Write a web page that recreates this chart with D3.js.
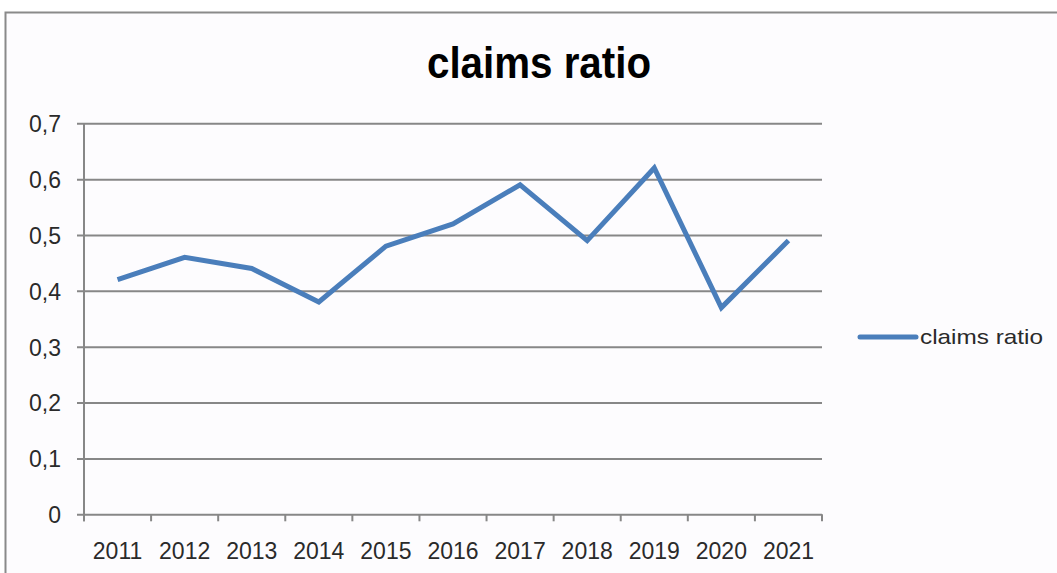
<!DOCTYPE html>
<html>
<head>
<meta charset="utf-8">
<script src="https://cdn.jsdelivr.net/npm/d3@7"></script>
<style>
  body { margin: 0; background: #ffffff; }
  text { font-family: "Liberation Sans", Arial, sans-serif; }
</style>
</head>
<body>
<div id="containerChart"></div>
<script>
//Width and height
let w = 1057;
let h = 573;
let margin = {top: 123.3, right: 235, bottom: 58.7, left: 84};

//Chart data
let years = ["2011", "2012", "2013", "2014", "2015", "2016", "2017", "2018", "2019", "2020", "2021"];
let claimsRatio = [0.42, 0.46, 0.44, 0.38, 0.48, 0.52, 0.59, 0.49, 0.62, 0.37, 0.49];
let yTicks = [0, 0.1, 0.2, 0.3, 0.4, 0.5, 0.6, 0.7];
let seriesName = "claims ratio";

let lineColor = "#4a7ebb";
let gridColor = "#878787";
let textColor = "#2a2a2a";

var svg = d3.select("#containerChart")
            .append("svg")
            .attr("width", w)
            .attr("height", h);

//chart frame (only top and left edges are in view)
svg.append("rect")
   .attr("x", 5.5)
   .attr("y", 12.5)
   .attr("width", w + 20)
   .attr("height", h + 20)
   .style("fill", "#fdfcfe")
   .style("stroke", "#8a8a8a")
   .style("stroke-width", 2);

var x = d3.scaleBand()
          .domain(years)
          .range([margin.left, w - margin.right]);

var y = d3.scaleLinear()
          .domain([0, 0.7])
          .range([h - margin.bottom, margin.top]);

var formatComma = function(v) { return d3.format(".1~f")(v).replace(".", ","); };

//horizontal gridlines + y axis
var yAxis = d3.axisLeft(y)
              .tickValues(yTicks)
              .tickSize(-(x.range()[1] - x.range()[0]))
              .tickFormat(formatComma);

var gy = svg.append("g")
            .attr("transform", "translate(" + margin.left + ",0)")
            .call(yAxis);
gy.select(".domain").remove();
gy.selectAll(".tick line")
  .attr("x1", -7)
  .style("stroke", gridColor)
  .style("stroke-width", 2);
gy.selectAll(".tick text")
  .attr("x", -23)
  .attr("dy", "0.36em")
  .style("font-size", "23px")
  .style("fill", textColor);

//vertical axis line
svg.append("line")
   .attr("x1", margin.left).attr("x2", margin.left)
   .attr("y1", y(0.7)).attr("y2", y(0) + 7)
   .style("stroke", gridColor)
   .style("stroke-width", 2);

//x axis: ticks between categories, labels centred
var xAxis = d3.axisBottom(x).tickSize(0).tickPadding(30);
var gx = svg.append("g")
            .attr("transform", "translate(0," + y(0) + ")")
            .call(xAxis);
gx.select(".domain").remove();
gx.selectAll(".tick text")
  .attr("dy", "0.62em")
  .style("font-size", "23px")
  .style("fill", textColor);

svg.append("g")
   .selectAll("line")
   .data(years.concat(["end"]))
   .enter()
   .append("line")
   .attr("x1", function(d, i) { return x.range()[0] + i * x.bandwidth(); })
   .attr("x2", function(d, i) { return x.range()[0] + i * x.bandwidth(); })
   .attr("y1", y(0))
   .attr("y2", y(0) + 7)
   .style("stroke", gridColor)
   .style("stroke-width", 2);

//data line
var line = d3.line()
             .x(function(d, i) { return x(years[i]) + x.bandwidth() / 2; })
             .y(function(d) { return y(d); });

svg.append("path")
   .datum(claimsRatio)
   .attr("d", line)
   .style("fill", "none")
   .style("stroke", lineColor)
   .style("stroke-width", 5)
   .style("stroke-linejoin", "miter")
   .style("stroke-linecap", "butt");

//title
svg.append("text")
   .attr("x", 539)
   .attr("y", 78)
   .attr("text-anchor", "middle")
   .attr("textLength", 224)
   .attr("lengthAdjust", "spacingAndGlyphs")
   .style("font-size", "44px")
   .style("font-weight", "bold")
   .style("fill", "#000000")
   .text(seriesName);

//legend
var legend = svg.append("g").attr("transform", "translate(860,337)");
legend.append("line")
      .attr("x1", 0).attr("x2", 56)
      .style("stroke", lineColor)
      .style("stroke-width", 5)
      .style("stroke-linecap", "round");
legend.append("text")
      .attr("x", 60)
      .attr("y", 7)
      .attr("textLength", 123)
      .attr("lengthAdjust", "spacingAndGlyphs")
      .style("font-size", "21px")
      .style("fill", textColor)
      .text(seriesName);
</script>
</body>
</html>
